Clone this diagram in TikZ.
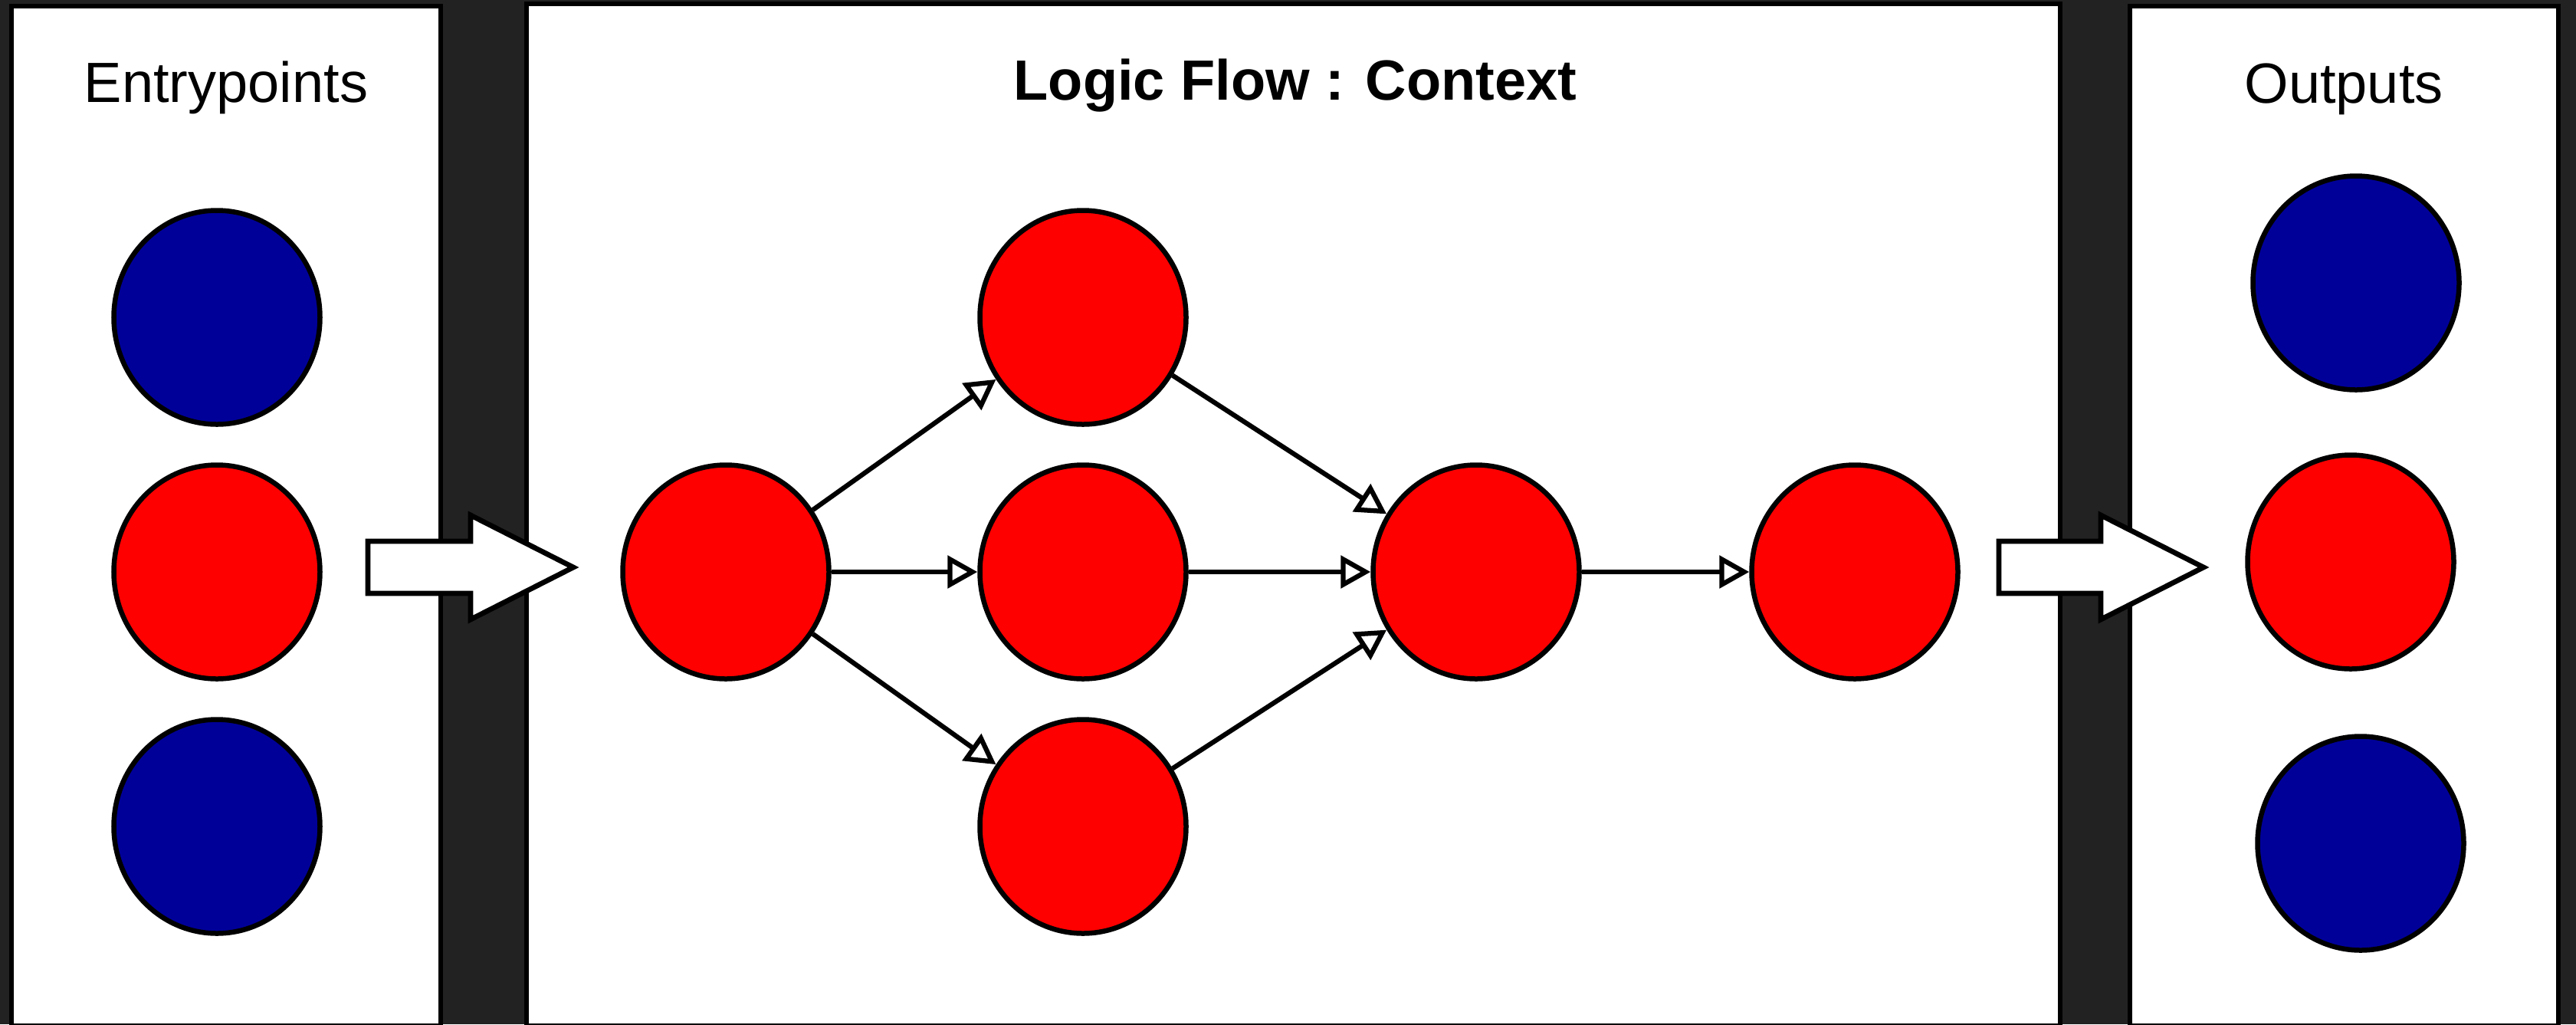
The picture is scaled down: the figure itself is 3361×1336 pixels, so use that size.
\documentclass[tikz,border=0pt]{standalone}
\usepackage{fontspec}
\setmainfont{Liberation Sans}
\usetikzlibrary{arrows.meta,shapes.geometric}
\definecolor{bgdark}{HTML}{222222}
\definecolor{nodeblue}{HTML}{000099}
\definecolor{nodered}{HTML}{FF0000}
\begin{document}
\begin{tikzpicture}[x=0.2pt,y=-0.2pt,
  panel/.style={draw=black,fill=white,line width=1.35pt},
  dot/.style={ellipse,draw=black,line width=1.3pt,minimum width=53.8pt,
    minimum height=55.8pt,inner sep=0pt},
  bluedot/.style={dot,fill=nodeblue},
  reddot/.style={dot,fill=nodered},
  link/.style={line width=1.25pt,-{Triangle[length=7.8pt,width=8.4pt,fill=white]}},
  bigarrow/.style={draw=black,fill=white,line width=1.35pt,miter limit=10},
  heading/.style={anchor=base,inner sep=0pt,font=\fontsize{14.8pt}{18pt}\selectfont},
  boldheading/.style={heading,font=\fontsize{14.8pt}{18pt}\selectfont\bfseries}]

% dark backdrop and page frame
\fill[bgdark] (0,0) rectangle (3361,1336);
\useasboundingbox (0,0) rectangle (3361,1336);

\begin{scope}
\clip (0,0) rectangle (3361,1336);

% the three columns
\draw[panel] (15,8) rectangle (575,1338);
\draw[panel] (687,5) rectangle (2688,1338);
\draw[panel] (2779,8) rectangle (3338,1338);

% column headings
\node[heading] (hin) at (295,133) {Entrypoints};
\node[boldheading] (hflow) at (1690,130) {Logic Flow : Context};
\node[heading] (hout) at (3058,134) {Outputs};

% entry points
\node[bluedot] (in1) at (283,414) {};
\node[reddot]  (in2) at (283,746) {};
\node[bluedot] (in3) at (283,1078) {};

% flow graph
\node[reddot] (a) at (947,746) {};
\node[reddot] (b) at (1413,414) {};
\node[reddot] (c) at (1413,746) {};
\node[reddot] (d) at (1413,1078) {};
\node[reddot] (e) at (1926,746) {};
\node[reddot] (f) at (2420,746) {};

% outputs
\node[bluedot] (out1) at (3074,369) {};
\node[reddot]  (out2) at (3067,733) {};
\node[bluedot] (out3) at (3080,1100) {};

% connectors
\draw[link] (a) -- (b);
\draw[link] (a) -- (c);
\draw[link] (a) -- (d);
\draw[link] (b) -- (e);
\draw[link] (c) -- (e);
\draw[link] (d) -- (e);
\draw[link] (e) -- (f);

% block arrows between the columns
\draw[bigarrow] (480,706) -- (614,706) -- (614,672) -- (748,740)
  -- (614,808) -- (614,774) -- (480,774) -- cycle;
\draw[bigarrow] (2608,706) -- (2741,706) -- (2741,672) -- (2875,740)
  -- (2741,808) -- (2741,774) -- (2608,774) -- cycle;
\end{scope}
\end{tikzpicture}
\end{document}
